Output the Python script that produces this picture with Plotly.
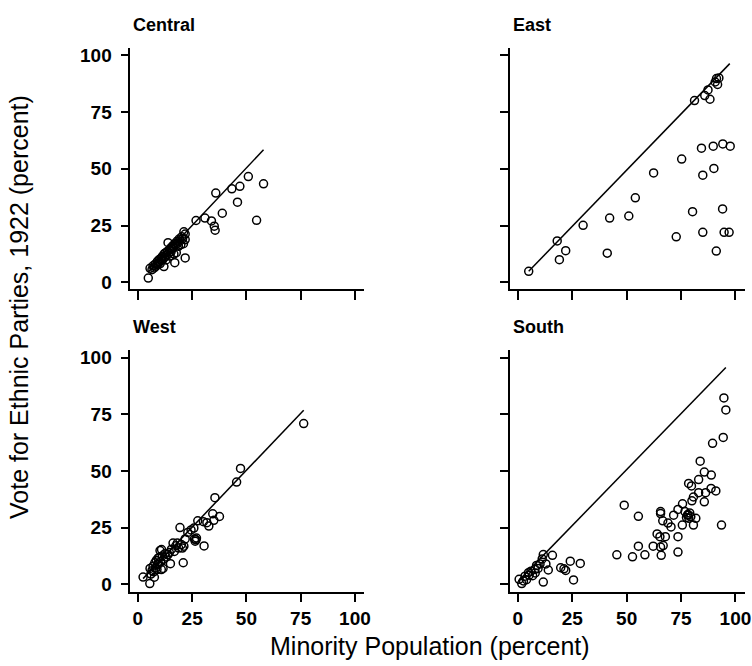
import plotly.graph_objects as go

W, H = 752, 666

panels = ["Central", "East", "West", "South"]

central_x = [4.8, 5.6, 6.5, 7.0, 7.5, 8.0, 8.3, 8.8, 9.0, 9.4, 9.8, 10.0, 10.3, 10.7, 11.0, 11.2, 11.6, 12.0, 12.1, 12.4,
             12.8, 13.0, 13.3, 13.6, 13.9, 14.2, 14.5, 14.8, 15.0, 15.3, 15.6, 16.0, 16.3, 16.6, 17.0, 17.0, 17.3, 17.7, 18.0, 18.3,
             18.7, 19.0, 19.4, 19.8, 20.2, 20.6, 21.0, 21.2, 21.8, 21.8, 21.8, 26.8, 30.9, 33.9, 35.2, 35.6, 35.9, 38.9, 43.3, 45.9,
             47.0, 50.9, 54.7, 57.9]
central_y = [1.8, 6.1, 5.5, 7.2, 6.3, 8.0, 7.0, 7.8, 9.2, 8.3, 10.0, 9.0, 8.2, 10.5, 9.6, 11.3, 10.2, 6.9, 12.5, 11.0,
             13.0, 9.8, 12.0, 13.6, 17.4, 12.8, 14.2, 11.5, 15.0, 13.4, 14.6, 16.0, 15.2, 12.4, 8.6, 17.0, 16.4, 13.0, 18.0, 17.2,
             15.8, 19.0, 18.2, 16.6, 20.0, 19.2, 17.0, 22.2, 21.2, 18.8, 10.7, 27.2, 28.3, 27.0, 24.7, 22.9, 39.3, 30.4, 41.2, 35.3,
             42.3, 46.6, 27.3, 43.4]

east_x = [5.0, 18.1, 19.1, 22.0, 30.0, 41.1, 42.2, 51.0, 54.0, 62.4, 72.8, 75.3, 80.3, 81.2, 84.4, 85.0, 85.0, 85.9,
          87.4, 88.3, 89.8, 90.1, 90.7, 91.3, 91.8, 92.4, 91.2, 94.2, 94.1, 94.8, 97.1, 97.6]
east_y = [4.8, 18.2, 9.9, 13.9, 25.1, 12.8, 28.3, 29.2, 37.2, 48.2, 20.0, 54.3, 31.1, 80.1, 59.1, 47.2, 22.0, 82.3,
          84.8, 80.7, 60.0, 50.2, 88.3, 89.8, 87.2, 90.1, 13.7, 61.0, 32.3, 22.0, 22.0, 60.0]

west_x = [2.4, 5.5, 7.6, 5.6, 6.0, 6.5, 7.0, 7.3, 7.8, 8.2, 8.5, 8.8, 9.0, 9.3, 9.6, 10.0, 10.2, 10.5, 10.9, 11.2,
          11.8, 12.5, 13.0, 13.9, 14.5, 15.0, 15.5, 16.2, 16.8, 17.5, 18.2, 18.8, 19.4, 20.0, 20.5, 20.9, 21.2, 21.8, 23.0, 24.5,
          25.8, 26.1, 26.8, 27.6, 30.2, 30.5, 31.8, 32.7, 34.5, 35.0, 35.5, 37.6, 45.5, 47.3, 76.4,
          10.8, 11.6, 26.4, 27.0]
west_y = [3.2, 0.3, 3.1, 7.0, 4.5, 6.0, 8.0, 5.5, 9.5, 7.2, 10.5, 6.5, 8.8, 11.5, 9.0, 12.0, 14.9, 10.0, 15.3, 12.5,
          11.0, 13.5, 12.0, 13.1, 14.0, 9.1, 15.5, 18.2, 14.5, 17.0, 18.2, 16.0, 25.0, 17.5, 16.0, 9.5, 16.8, 20.0, 22.9, 24.0,
          24.8, 20.0, 19.6, 28.0, 27.6, 16.9, 27.2, 25.7, 31.1, 28.2, 38.2, 29.9, 45.1, 51.1, 70.9,
          6.5, 7.0, 19.0, 20.4]

south_x = [0.6, 1.8, 2.6, 3.3, 4.9, 6.8, 8.6, 7.9, 11.7, 11.2, 12.9, 14.0, 11.7, 15.9, 19.7, 21.2, 22.0, 24.1, 25.6, 28.7,
           45.5, 48.9, 52.7, 55.4, 55.4, 58.4, 62.2, 64.0, 65.3, 65.6, 65.6, 65.9, 65.6, 66.6, 66.8, 67.8, 69.0, 70.4, 71.6, 73.6,
           73.6, 73.6, 75.7, 75.6, 76.8, 78.0, 78.6, 78.5, 79.8, 80.0, 80.7, 80.7, 81.8, 83.1, 83.1, 83.8, 85.7, 85.7, 86.3, 88.9,
           88.8, 91.0, 89.5, 93.6, 94.4, 94.7, 95.6,
           4.0, 5.2, 6.0, 8.0, 9.3, 10.2, 77.5, 78.2, 79.0, 79.5]
south_y = [2.2, 0.3, 1.5, 3.6, 5.1, 3.8, 8.3, 6.6, 13.1, 11.2, 9.0, 6.3, 1.0, 12.8, 7.3, 6.8, 6.1, 10.2, 1.9, 9.2,
           13.0, 34.9, 12.1, 30.0, 16.8, 13.0, 16.8, 22.2, 21.0, 32.1, 31.2, 12.8, 16.4, 28.0, 17.1, 21.0, 27.0, 25.3, 30.5, 33.0,
           14.2, 21.0, 35.5, 26.1, 32.1, 30.5, 29.1, 44.5, 43.4, 36.8, 38.5, 26.1, 29.1, 46.2, 40.4, 54.3, 49.5, 36.4, 40.4, 48.2,
           42.3, 41.2, 62.2, 26.1, 64.8, 82.2, 76.9,
           2.0, 4.0, 5.8, 5.0, 7.0, 9.0, 29.5, 30.8, 31.5, 29.8]

# fitted lines (end points)
line_x = {"Central": [4.8, 57.9], "East": [5.0, 97.4], "West": [2.4, 76.4], "South": [0.3, 95.6]}
line_y = {"Central": [4.5, 58.4], "East": [4.8, 96.4], "West": [2.5, 76.8], "South": [1.5, 95.6]}

data = {"Central": (central_x, central_y), "East": (east_x, east_y),
        "West": (west_x, west_y), "South": (south_x, south_y)}

tick_vals = [0, 25, 50, 75, 100]
tick_text = ["0", "25", "50", "75", "100"]

# pixel geometry
xdom_px = {"Central": (131.5, 367), "West": (131.5, 367), "East": (515, 752), "South": (515, 752)}
xrng = {"Central": [-3.5, 104], "West": [-3.5, 104], "East": [-3.5, 104.4], "South": [-3.5, 104.4]}
ydom_px = {"Central": (45.9, 289.6), "East": (45.9, 289.6), "West": (350.3, 594.0), "South": (350.3, 594.0)}
yrng = [-3.2, 103.5]
title_pos = {"Central": (132.5, 23), "East": (516, 23), "West": (132, 327), "South": (516, 327)}

FONT = "Liberation Sans, Arial, Helvetica, sans-serif"

fig = go.Figure()
layout = dict(width=W, height=H, margin=dict(l=0, r=0, t=0, b=0),
              paper_bgcolor="white", plot_bgcolor="white", showlegend=False)
annotations = []

for i, p in enumerate(panels, start=1):
    xa = "x" if i == 1 else f"x{i}"
    ya = "y" if i == 1 else f"y{i}"
    px, py = data[p]
    fig.add_trace(go.Scatter(x=line_x[p], y=line_y[p], mode="lines",
                             line=dict(color="black", width=1.5),
                             xaxis=xa, yaxis=ya, hoverinfo="skip"))
    fig.add_trace(go.Scatter(x=px, y=py, mode="markers",
                             marker=dict(symbol="circle-open", size=8, color="black",
                                         line=dict(width=1.5, color="black")),
                             xaxis=xa, yaxis=ya))
    bottom = p in ("West", "South")
    x0, x1 = xdom_px[p]
    y0, y1 = ydom_px[p]
    xkey = "xaxis" if i == 1 else f"xaxis{i}"
    ykey = "yaxis" if i == 1 else f"yaxis{i}"
    layout[xkey] = dict(domain=[x0 / W, x1 / W], range=xrng[p], anchor=ya,
                        showgrid=False, zeroline=False, showline=True, linecolor="black", linewidth=1.5,
                        ticks="outside", ticklen=9, tickwidth=1.5, tickcolor="black",
                        tickvals=tick_vals, ticktext=tick_text, showticklabels=bottom,
                        tickfont=dict(family=FONT, size=19, color="black", weight="bold"))
    layout[ykey] = dict(domain=[1 - y1 / H, 1 - y0 / H], range=yrng, anchor=xa,
                        showgrid=False, zeroline=False, showline=True, linecolor="black", linewidth=1.5,
                        ticks="outside", ticklen=8, tickwidth=1.5, tickcolor="black",
                        tickvals=tick_vals, ticktext=tick_text, showticklabels=(p in ("Central", "West")),
                        ticklabelstandoff=5,
                        tickfont=dict(family=FONT, size=19, color="black", weight="bold"))
    tx, ty = title_pos[p]
    annotations.append(dict(text=p, x=tx / W, y=1 - ty / H, xref="paper", yref="paper",
                            xanchor="left", yanchor="middle", showarrow=False,
                            font=dict(family=FONT, size=18, color="black", weight="bold")))

annotations.append(dict(text="Minority Population (percent)", x=434 / W, y=1 - 649 / H,
                        xref="paper", yref="paper", xanchor="center", yanchor="middle",
                        showarrow=False, font=dict(family=FONT, size=25, color="black")))
annotations.append(dict(text="Vote for Ethnic Parties, 1922 (percent)", x=19 / W, y=1 - 307.5 / H,
                        xref="paper", yref="paper", xanchor="center", yanchor="middle", textangle=-90,
                        showarrow=False, font=dict(family=FONT, size=25, color="black")))
layout["annotations"] = annotations
fig.update_layout(**layout)

fig.write_html("out.html", config={"displayModeBar": False},
               post_script="document.body.style.margin='0';document.body.style.overflow='hidden';")
